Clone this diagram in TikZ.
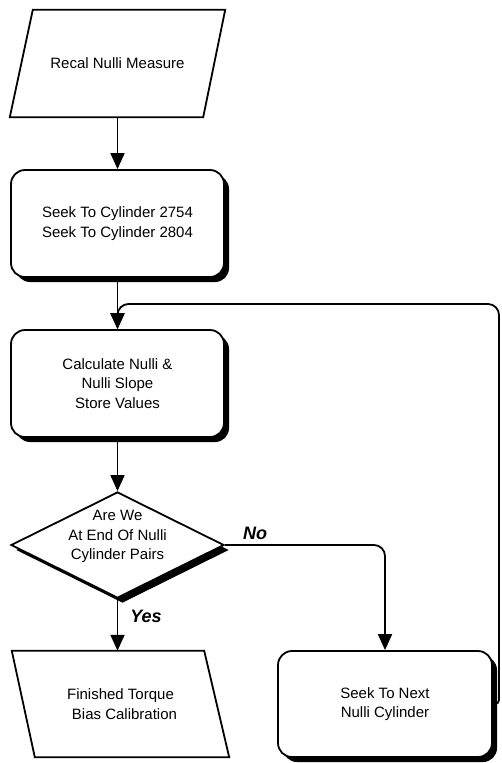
\documentclass[tikz,border=0pt]{standalone}
\usepackage{fontspec}
\setmainfont{Liberation Sans}
\usetikzlibrary{arrows.meta,shapes.geometric,shadows,calc}
\pgfdeclarelayer{bg}
\pgfsetlayers{bg,main}
\begin{document}
\begin{tikzpicture}[x=1pt,y=-1pt,
  txt/.style={font=\fontsize{15}{19.5}\selectfont, align=center},
  line/.style={line width=1.8pt},
  arr/.style={line width=1.8pt, -{Triangle[width=14pt,length=16pt]}},
  shad/.style={drop shadow={shadow xshift=5pt, shadow yshift=-5pt, fill=black, opacity=1}},
  rbox/.style={txt, draw, line width=1.8pt, fill=white, rounded corners=14pt,
    minimum width=213pt, minimum height=107pt, inner sep=0pt, shad},
  pbox/.style={txt, minimum width=215pt, minimum height=107pt, inner sep=0pt},
  dec/.style={font=\fontsize{15}{19.5}\selectfont, draw, diamond, line width=1.8pt, fill=white, aspect=2,
    minimum width=213pt, minimum height=106pt, inner sep=0pt, shad},
  lab/.style={font=\fontsize{18}{20}\selectfont\bfseries\itshape},
  para/.style={draw, line width=1.8pt, fill=white},
  parashadow/.style={fill=black}
]
\useasboundingbox (0,0) rectangle (502,763);

% nodes
\node[pbox] (p1) at (117.5,63.5) {Recal Nulli Measure};
\node[rbox] (b2) at (117.5,223.5) {Seek To Cylinder 2754\\Seek To Cylinder 2804};
\node[rbox] (b3) at (117.5,383.5) {Calculate Nulli \&\\Nulli Slope\\Store Values};
\node[dec] (d) at (117.5,545) {\raisebox{5pt}[0pt][0pt]{\begin{tabular}{@{}c@{}}Are We\\At End Of Nulli\\Cylinder Pairs\end{tabular}}};
\node[pbox, minimum width=217pt, minimum height=106pt] (p2) at (120.5,704) {Finished Torque\\\hspace*{8pt}Bias Calibration};
\node[rbox, minimum width=214pt, minimum height=106pt] (s) at (385,704) {Seek To Next\\Nulli Cylinder};

\node[lab] (lNo) at (255,533) {No};
\node[lab] (lYes) at (146,616) {Yes};

% parallelograms (drawn behind their text)
\begin{pgfonlayer}{bg}
  \fill[parashadow, shift={(5,5)}] ($(p1.north west)+(23,0)$) -- (p1.north east)
     -- ($(p1.south east)+(-22,0)$) -- (p1.south west) -- cycle;
  \draw[para] ($(p1.north west)+(23,0)$) -- (p1.north east)
     -- ($(p1.south east)+(-22,0)$) -- (p1.south west) -- cycle;
  \fill[parashadow, shift={(5,5)}] (p2.north west) -- ($(p2.north east)+(-25,0)$)
     -- (p2.south east) -- ($(p2.south west)+(23,0)$) -- cycle;
  \draw[para] (p2.north west) -- ($(p2.north east)+(-25,0)$)
     -- (p2.south east) -- ($(p2.south west)+(23,0)$) -- cycle;
\end{pgfonlayer}

% connectors
\coordinate (loopR) at (499,304);
\coordinate (loopM) at (499,500);
\coordinate (loopL) at (117.5,304);
\draw[arr] (p1.south) -- (b2.north);
\draw[line] (b2.south) -- (loopL);
\draw[arr] (loopL) -- (b3.north);
\draw[arr] (b3.south) -- (d.north);
\draw[arr] (d.south) -- (d.south |- p2.north);
\draw[arr, rounded corners=11pt] (d.east) -| (s.north);
\draw[line, rounded corners=4pt] (s.east) -| (loopM);
\draw[arr, rounded corners=11pt] (loopM) -- (loopR) -- (loopL) -- (b3.north);
\end{tikzpicture}
\end{document}
